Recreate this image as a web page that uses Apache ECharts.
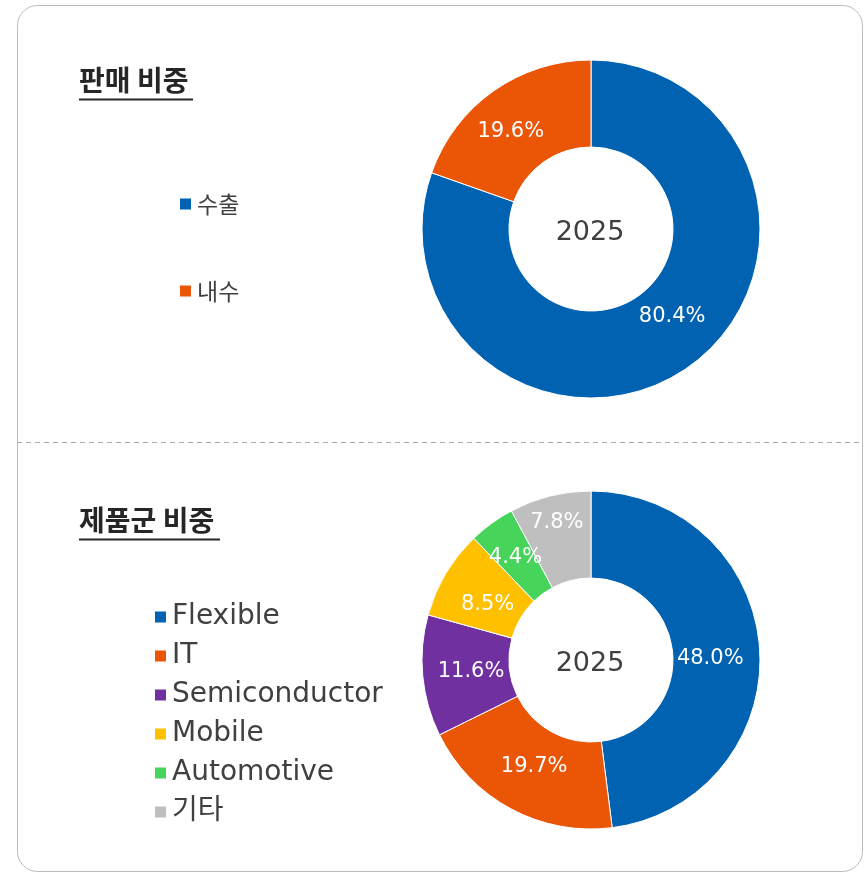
<!DOCTYPE html>
<html><head><meta charset="utf-8">
<script src="https://cdn.jsdelivr.net/npm/echarts@6/dist/echarts.min.js"></script>
<style>html,body{margin:0;padding:0;background:#fff}#c{width:867px;height:876px}</style>
</head><body><div id="c"></div>
<script>
const salesCategories = ['수출', '내수'];
const salesValues = [80.4, 19.6];
const salesColors = ['#0062B1', '#EA5506'];
const productCategories = ['Flexible', 'IT', 'Semiconductor', 'Mobile', 'Automotive', '기타'];
const productValues = [48.0, 19.7, 11.6, 8.5, 4.4, 7.8];
const productColors = ['#0062B1', '#EA5506', '#7030A0', '#FFC000', '#47D45A', '#BFBFBF'];
const yearLabel = '2025';

// label fine placement (style only): [dx, dy] nudges of the text
const labelNudge = {
  '수출': [7, -17], '내수': [-6, 7],
  'Flexible': [-9, 7], 'IT': [4, -7], 'Semiconductor': [8, -1], 'Mobile': [7, 10], 'Automotive': [0, 2], '기타': [-3, -13]
};

const FONT = '"DejaVu Sans", "Noto Sans CJK KR", sans-serif';
const LABEL_SIZE = 21;
const chart = echarts.init(document.getElementById('c'), null, {renderer: 'canvas'});

function nudgePadding(name) {
  const n = labelNudge[name] || [0, 0];
  const dx = n[0] * 2;
  return [0, Math.max(-dx, 0), 0, Math.max(dx, 0)];
}
function labelText(p) {
  const n = labelNudge[p.name] || [0, 0];
  const txt = '{v|' + p.value.toFixed(1) + '%}';
  const dy = n[1];
  if (dy < 0) return txt + '\n{s| }';
  if (dy > 0) return '{s| }\n' + txt;
  return txt;
}
function spacerRich(name) {
  const n = labelNudge[name] || [0, 0];
  return {
    v: {color: '#fff', fontFamily: FONT, fontSize: LABEL_SIZE, lineHeight: 26},
    s: {fontSize: 1, lineHeight: Math.max(Math.abs(n[1]) * 2, 1)}
  };
}

function pieSeries(name, cats, vals, colors, center) {
  return {
    type: 'pie', name: name, center: center, radius: [82, 169],
    startAngle: 90, clockwise: true, silent: true, avoidLabelOverlap: false,
    itemStyle: {borderColor: '#fff', borderWidth: 1},
    label: {show: true, position: 'inside', color: '#fff', fontFamily: FONT, fontSize: LABEL_SIZE,
      formatter: labelText},
    labelLine: {show: false},
    labelLayout: {hideOverlap: false},
    data: cats.map((c, i) => ({name: c, value: vals[i], itemStyle: {color: colors[i]},
      label: {padding: nudgePadding(c), rich: spacerRich(c)}}))
  };
}

chart.setOption({
  animation: false,
  title: [
    {text: '판매 비중', left: 79, top: 66, padding: 0, textStyle: {fontFamily: '"Noto Sans CJK KR"', fontWeight: 'bold', fontSize: 28, color: '#262626'}},
    {text: '제품군 비중', left: 79, top: 506, padding: 0, textStyle: {fontFamily: '"Noto Sans CJK KR"', fontWeight: 'bold', fontSize: 28, color: '#262626'}},
    {text: yearLabel, left: 590, top: 219, padding: 0, textAlign: 'center', textStyle: {fontFamily: FONT, fontWeight: 'normal', fontSize: 27, color: '#404040'}},
    {text: yearLabel, left: 590, top: 650, padding: 0, textAlign: 'center', textStyle: {fontFamily: FONT, fontWeight: 'normal', fontSize: 27, color: '#404040'}}
  ],
  legend: [
    {seriesIndex: 0, data: salesCategories, orient: 'vertical', left: 178, top: 191, padding: 0, icon: 'rect', itemWidth: 13, itemHeight: 13,
      itemGap: 61, selectedMode: false,
      textStyle: {fontFamily: '"Noto Sans CJK KR"', fontSize: 23, lineHeight: 26, color: '#404040'}},
    {data: productCategories, orient: 'vertical', left: 153, top: 602, padding: 0, icon: 'rect', itemWidth: 13, itemHeight: 13,
      itemGap: 9, selectedMode: false,
      textStyle: {fontFamily: FONT, fontSize: 28, lineHeight: 30, color: '#404040'}}
  ],
  graphic: [
    {type: 'rect', shape: {x: 17.5, y: 5.5, width: 845, height: 866, r: 20}, style: {fill: 'none', stroke: '#BBBBBB', lineWidth: 1}, silent: true, z: -10},
    {type: 'line', shape: {x1: 17, y1: 442.5, x2: 862, y2: 442.5}, style: {stroke: '#AAAAAA', lineWidth: 1, lineDash: [5, 4]}, silent: true},
    {type: 'line', shape: {x1: 79, y1: 99.5, x2: 193, y2: 99.5}, style: {stroke: '#262626', lineWidth: 2}, silent: true},
    {type: 'line', shape: {x1: 79, y1: 539.5, x2: 220, y2: 539.5}, style: {stroke: '#262626', lineWidth: 2}, silent: true}
  ],
  series: [
    pieSeries('판매 비중', salesCategories, salesValues, salesColors, [591, 229]),
    pieSeries('제품군 비중', productCategories, productValues, productColors, [591, 660])
  ]
});
</script></body></html>
